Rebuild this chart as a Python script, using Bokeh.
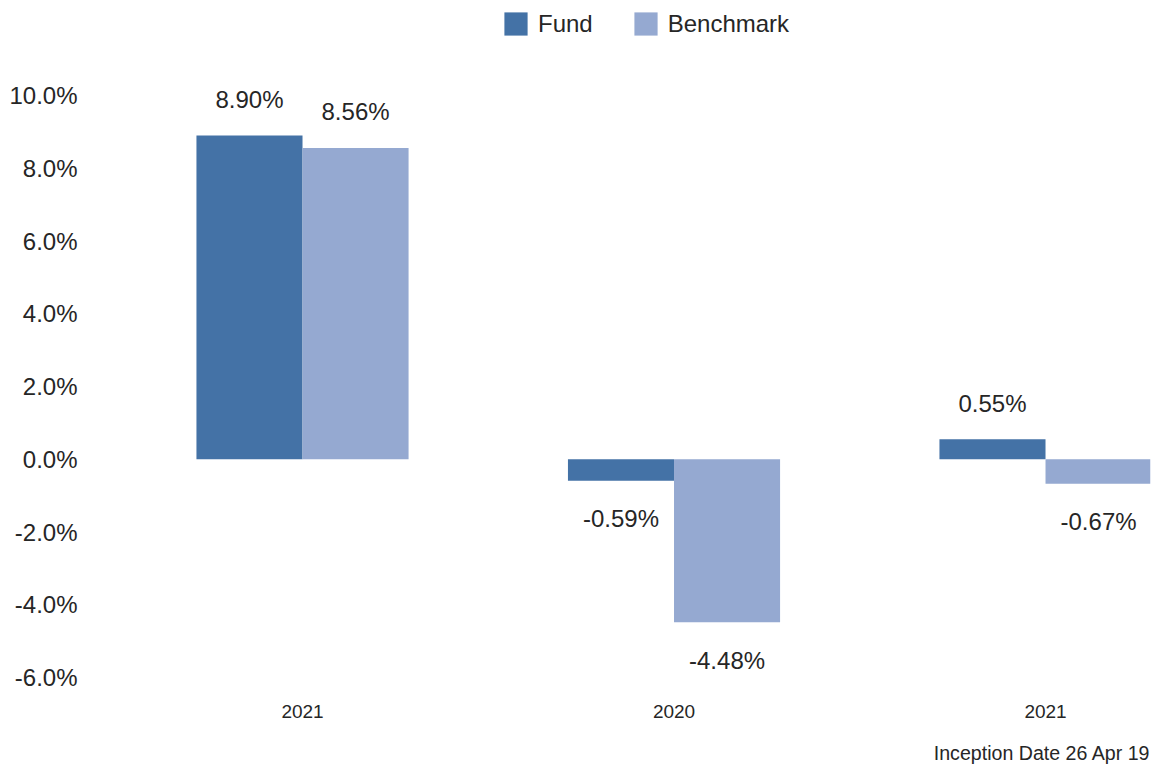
import numpy as np
from bokeh.plotting import figure
from bokeh.models import (ColumnDataSource, FixedTicker, PrintfTickFormatter, Range1d,
                          Legend, LegendItem, LinearAxis)
from bokeh.core.properties import value
from bokeh.embed import file_html
from bokeh.resources import INLINE

# ---- data ----
categories = ["2021", "2020", "2021"]
fund = [8.90, -0.59, 0.55]
benchmark = [8.56, -4.48, -0.67]
y_ticks = [-6, -4, -2, 0, 2, 4, 6, 8, 10]
series_names = ["Fund", "Benchmark"]
note = "Inception Date 26 Apr 19"

FONT = "Liberation Sans"
TXT = "#262626"
C_FUND = "#4472A6"
C_BENCH = "#95A9D1"
BAR_W = 0.2855
X_START, X_END = -0.5707, 2.2826
Y_START, Y_END = -6.357, 12.612
W, H = 1157, 767
BORDER_L, BORDER_R, BORDER_B = 90, 7, 77
NOTE_SIZE = 19.6

xs = np.arange(len(categories), dtype=float)

p = figure(width=W, height=H, output_backend="svg", toolbar_location=None,
           x_range=Range1d(X_START, X_END), y_range=Range1d(Y_START, Y_END),
           min_border_left=BORDER_L, min_border_right=BORDER_R,
           min_border_top=0, min_border_bottom=BORDER_B)
p.outline_line_color = None
p.grid.visible = False
p.background_fill_color = "white"
p.border_fill_color = "white"

def make_src(vals, dx):
    vals = np.array(vals)
    return ColumnDataSource(dict(
        x=xs + dx, top=vals,
        label=[f"{v:.2f}%" for v in vals],
        yoff=np.where(vals >= 0, -36, 38),
    ))

src_f = make_src(fund, -BAR_W / 2)
src_b = make_src(benchmark, BAR_W / 2)

r_f = p.vbar(x="x", top="top", bottom=0, width=BAR_W, source=src_f,
             fill_color=C_FUND, line_color=None)
r_b = p.vbar(x="x", top="top", bottom=0, width=BAR_W, source=src_b,
             fill_color=C_BENCH, line_color=None)

for s in (src_f, src_b):
    p.text(x="x", y="top", text="label", y_offset="yoff", source=s,
           text_align="center", text_baseline="middle",
           text_font=value(FONT), text_font_size="24px", text_color=TXT)

# axes
p.xaxis.ticker = FixedTicker(ticks=list(xs))
p.xaxis.major_label_overrides = {float(i): c for i, c in zip(xs, categories)}
p.xaxis.major_label_text_font_size = "19px"
p.xaxis.major_label_standoff = 8
p.yaxis.ticker = FixedTicker(ticks=y_ticks)
p.yaxis.formatter = PrintfTickFormatter(format="%.1f%%")
p.yaxis.major_label_text_font_size = "24px"
p.yaxis.major_label_standoff = 7

# footnote as the single label of a second, bare axis below, right-aligned to the plot edge
px_per_unit = (W - BORDER_L - BORDER_R) / (X_END - X_START)
half_note_w = 11.062 * NOTE_SIZE / 2          # Liberation Sans advance width of the note
note_pos = round(X_END - half_note_w / px_per_unit, 3)
note_axis = LinearAxis(ticker=FixedTicker(ticks=[note_pos]),
                       major_label_overrides={note_pos: note},
                       major_label_standoff=15,
                       major_label_text_font_size=f"{NOTE_SIZE}px")
p.add_layout(note_axis, "below")

for ax in (p.xaxis + p.yaxis):
    ax.axis_line_color = None
    ax.major_tick_line_color = None
    ax.minor_tick_line_color = None
    ax.major_label_text_font = FONT
    ax.major_label_text_color = TXT

legend = Legend(items=[LegendItem(label=series_names[0], renderers=[r_f]),
                       LegendItem(label=series_names[1], renderers=[r_b])],
                orientation="horizontal", location=(411, 652),
                glyph_width=29, glyph_height=29, label_standoff=8, spacing=38,
                padding=0, margin=0, border_line_color=None,
                background_fill_alpha=0,
                label_text_font=FONT, label_text_font_size="24px",
                label_text_color=TXT)
p.add_layout(legend)

open("out.html", "w").write(file_html(p, INLINE))
